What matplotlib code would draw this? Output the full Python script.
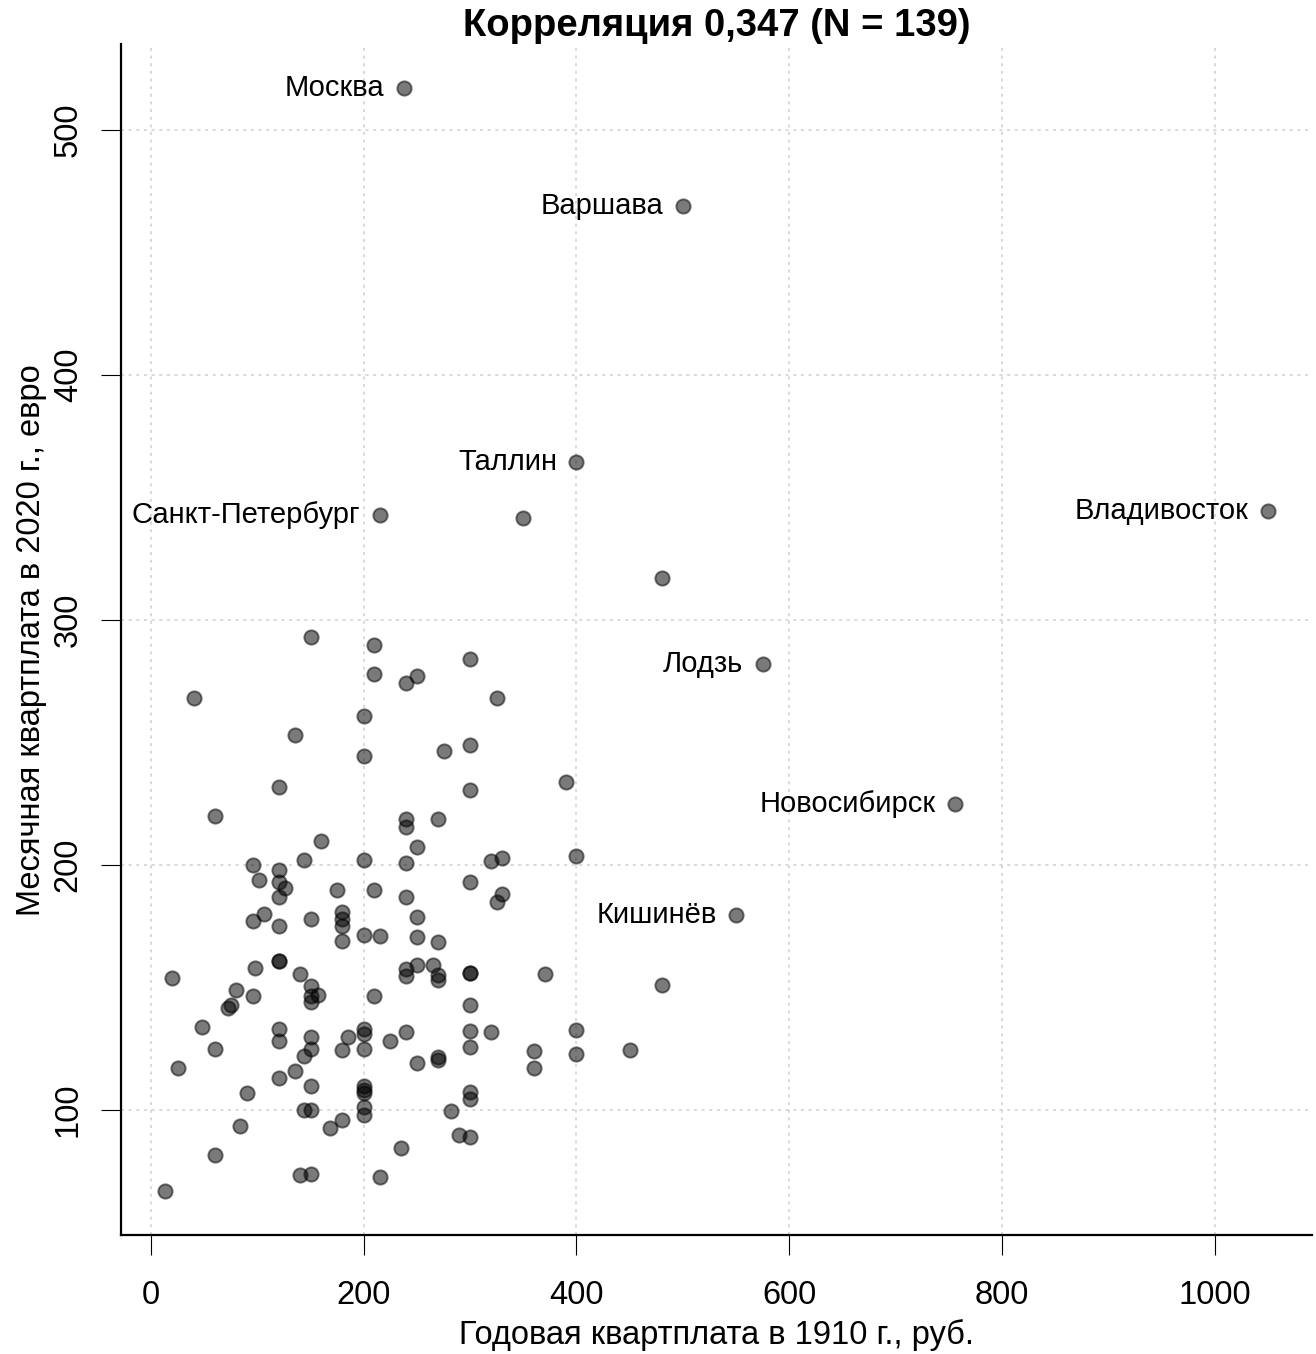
import matplotlib
matplotlib.use("Agg")
import matplotlib.pyplot as plt

plt.rcParams["font.family"] = ["Liberation Sans", "DejaVu Sans"]

# rent per year in 1910 (roubles) vs monthly rent in 2020 (euro)
rent_1910 = [
    238, 500, 400, 215, 350, 1050, 480, 575, 756, 550,
    150, 210, 210, 40, 200, 135, 200, 120, 60, 160,
    96, 144, 200, 120, 102, 120, 126, 120, 175, 210,
    106, 96, 120, 150, 180, 180, 180, 180,
    300, 240, 250, 325, 275, 300, 390, 300, 240, 240,
    270, 250, 240, 320, 330, 400, 240, 300, 330, 325, 250,
    200, 215, 120, 120, 20, 98, 140, 150, 150, 157,
    150, 80, 96, 72, 75, 48, 60, 25, 120, 120,
    150, 150, 144, 135, 120, 150, 90, 144, 150, 180,
    168, 84, 60, 140, 150, 13, 200, 200, 200, 185,
    180, 200, 200, 200, 200, 200, 215,
    250, 270, 240, 240, 250, 265, 270, 270, 300, 300,
    370, 480, 210, 300, 225, 240, 300, 320, 400, 250,
    270, 270, 300, 360, 360, 400, 450, 300, 300, 282,
    290, 300, 235,
]
rent_2020 = [
    517, 469, 364.5, 343, 341.6, 344.5, 317, 282, 225, 179.6,
    293, 290, 278, 268, 261, 253, 244.5, 232, 220, 210,
    200, 202, 202, 198, 194, 193, 190.5, 187, 190, 190,
    180, 177, 175, 178, 181, 178, 175, 169,
    284, 274.5, 277, 268, 246.5, 249, 234, 230.6, 218.6, 215.6,
    218.6, 207.5, 200.7, 201.8, 203, 203.7, 187, 193, 188, 185, 178.7,
    171.4, 171, 161, 161, 154, 158, 155.4, 150.6, 146.5, 147,
    144, 149, 146.5, 141.5, 143, 134, 125, 117, 133, 128,
    130, 125, 122, 116, 113, 110, 107, 100, 100, 96,
    92.5, 93.6, 81.5, 73.5, 74, 67, 133, 131, 125, 129.7,
    124.5, 110, 108, 107, 101.4, 98, 72.7,
    170.5, 168.7, 157.4, 154.7, 159, 159, 155, 153, 156, 156,
    155.4, 151, 146.5, 142.7, 128, 132, 132.4, 132, 132.7, 119,
    121.8, 120.4, 125.6, 124, 117, 122.7, 124.5, 107.5, 104.5, 99.7,
    90, 89, 84.4,
]
# labelled cities are the first entries of the arrays above
cities = ["Москва", "Варшава", "Таллин", "Санкт-Петербург", None,
          "Владивосток", None, "Лодзь", "Новосибирск", "Кишинёв"]

x_ticks = [0, 200, 400, 600, 800, 1000]
y_ticks = [100, 200, 300, 400, 500]

fig = plt.figure(figsize=(13.16, 13.54), dpi=100)
ax = fig.add_axes([0.0917, 0.0879, 0.9053, 0.8794])

# R-style 4% padding around the data range
def padded(v):
    lo, hi = min(v), max(v)
    d = (hi - lo) * 0.04
    return lo - d, hi + d

ax.set_xlim(*padded(rent_1910))
ax.set_ylim(*padded(rent_2020))

ax.set_xticks(x_ticks)
ax.set_yticks(y_ticks)
ax.grid(True, color="#d0d0d0", linestyle=(0, (2, 3)), linewidth=1.1)
ax.set_axisbelow(True)

ax.scatter(rent_1910, rent_2020, s=105, facecolor=(0, 0, 0, 0.52),
           edgecolor=(0, 0, 0, 0.52), linewidth=1.4, zorder=3)

for name, xv, yv in zip(cities, rent_1910, rent_2020):
    if name:
        ax.annotate(name, (xv, yv), xytext=(-14, 0), textcoords="offset points",
                    ha="right", va="center", fontsize=21, zorder=4)

for side in ("top", "right"):
    ax.spines[side].set_visible(False)
for side in ("left", "bottom"):
    ax.spines[side].set_linewidth(1.6)

ax.tick_params(direction="out", length=14.5, width=0.8, labelsize=23.5)
ax.tick_params(axis="x", pad=18)
ax.tick_params(axis="y", pad=12, labelrotation=90)
for lab in ax.get_yticklabels():
    lab.set_va("center")

ax.set_xlabel("Годовая квартплата в 1910 г., руб.", fontsize=23.5, labelpad=6)
ax.set_ylabel("Месячная квартплата в 2020 г., евро", fontsize=23.5, labelpad=4)
ax.set_title("Корреляция 0,347 (N = 139)", fontsize=27.5, fontweight="bold", pad=2)

fig.savefig("out.png", dpi=100)
